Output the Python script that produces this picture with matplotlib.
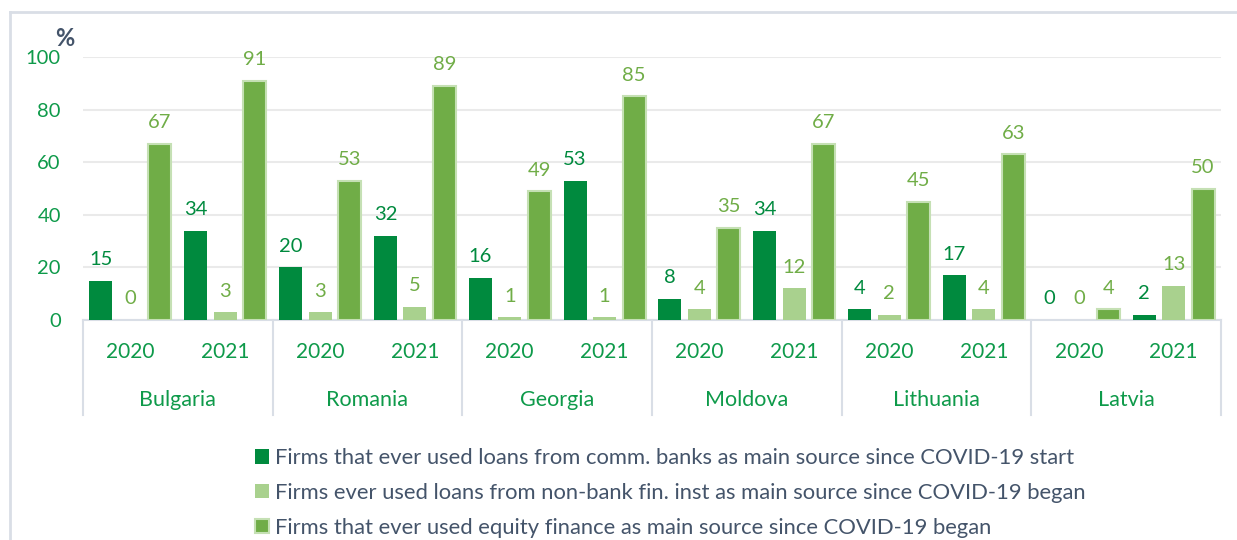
import matplotlib
matplotlib.use("Agg")
import matplotlib.pyplot as plt
from matplotlib.patches import Patch
from matplotlib.lines import Line2D
import numpy as np

plt.rcParams['font.family'] = ['Lato', 'DejaVu Sans']

countries = ["Bulgaria", "Romania", "Georgia", "Moldova", "Lithuania", "Latvia"]
years = ["2020", "2021"]
comm_banks = [15, 34, 20, 32, 16, 53, 8, 34, 4, 17, 0, 2]
non_bank = [0, 3, 3, 5, 1, 1, 4, 12, 2, 4, 0, 13]
equity = [67, 91, 53, 89, 49, 85, 35, 67, 45, 63, 4, 50]
series_names = [
    "Firms that ever used loans from comm. banks as main source since COVID-19 start",
    "Firms ever used loans from non-bank fin. inst as main source since COVID-19 began",
    "Firms that ever used equity finance as main source since COVID-19 began",
]
yticks = [0, 20, 40, 60, 80, 100]

c_dark = "#008A3E"
c_light = "#A9D18E"
c_mid = "#70AD47"
c_edge = "#C5E0B4"
c_tick = "#0E9A4A"
c_text = "#44546A"
c_grid = "#EAEAEA"
c_axis = "#D9DEE6"

W, H = 1237, 540
fig = plt.figure(figsize=(W / 100, H / 100), dpi=100)
x0, x1, ytop, ybot = 83, 1221, 57, 320
ax = fig.add_axes([x0 / W, 1 - ybot / H, (x1 - x0) / W, (ybot - ytop) / H])

n = len(comm_banks)
x = np.arange(n)
bw = 0.243
off = 0.311
series = [comm_banks, non_bank, equity]
colors = [c_dark, c_light, c_mid]
label_colors = [c_dark, c_mid, c_mid]
for k, (vals, col, lc) in enumerate(zip(series, colors, label_colors)):
    xs = x + (k - 1) * off
    if k == 2:
        ax.bar(xs, vals, width=bw, color=col, edgecolor=c_edge, linewidth=1.5, zorder=3)
    else:
        ax.bar(xs, vals, width=bw, color=col, linewidth=0, zorder=3)
    for xi, v in zip(xs, vals):
        ax.annotate(str(v), (xi, v), xytext=(0, 9), textcoords="offset points",
                    ha="center", va="bottom", fontsize=14.5, color=lc, clip_on=False, zorder=4)

ax.set_xlim(-0.5, n - 0.5)
ax.set_ylim(0, 100)
ax.set_yticks(yticks)
ax.set_yticklabels([str(t) for t in yticks])
ax.tick_params(axis="y", length=0, pad=16, labelsize=14.5, labelcolor=c_tick)
ax.set_xticks([])
for s in ["top", "right", "left"]:
    ax.spines[s].set_visible(False)
ax.spines["bottom"].set_color(c_axis)
ax.spines["bottom"].set_linewidth(1.5)
ax.grid(axis="y", color=c_grid, linewidth=1.5, zorder=0)
ax.set_axisbelow(True)

axh = ybot - ytop
for i in range(n):
    ax.text(i, -32 / axh, years[i % 2], transform=ax.get_xaxis_transform(),
            ha="center", va="center", fontsize=15, color=c_tick)
for j, c in enumerate(countries):
    ax.text(2 * j + 0.5, -80 / axh, c, transform=ax.get_xaxis_transform(),
            ha="center", va="center", fontsize=15.5, color=c_tick)
for j in range(len(countries) + 1):
    xb = 2 * j - 0.5
    ax.plot([xb, xb], [0, -95 / axh], transform=ax.get_xaxis_transform(),
            color=c_axis, linewidth=1.5, clip_on=False)

fig.text(65 / W, 1 - 38 / H, "%", ha="center", va="center", fontsize=17,
         fontweight="bold", color=c_text)

fig.add_artist(Line2D([10 / W, 10 / W], [1 - 12 / H, 0], color=c_axis, linewidth=2))
fig.add_artist(Line2D([10 / W, 1], [1 - 12 / H, 1 - 12 / H], color=c_axis, linewidth=2))

handles = [
    Patch(facecolor=c_dark, edgecolor="none"),
    Patch(facecolor=c_light, edgecolor="none"),
    Patch(facecolor=c_mid, edgecolor=c_edge, linewidth=1.5),
]
leg = fig.legend(handles, series_names, loc="upper left",
                 bbox_to_anchor=(255 / W, 1 - 448 / H), frameon=False,
                 borderpad=0, borderaxespad=0,
                 fontsize=15.8, labelcolor=c_text, handlelength=0.64,
                 handleheight=0.64, handletextpad=0.27, labelspacing=0.68)

fig.savefig("out.png", dpi=100)
